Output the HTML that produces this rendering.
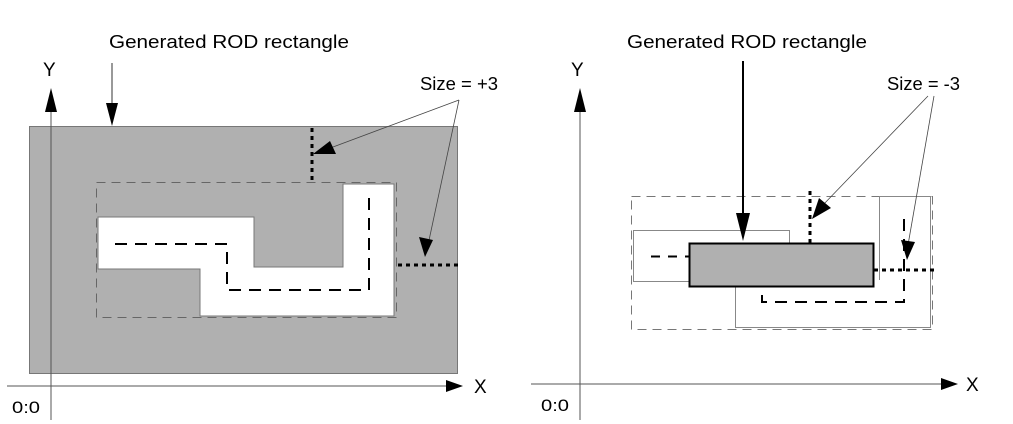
<!DOCTYPE html>
<html><head><meta charset="utf-8"><style>
html,body{margin:0;padding:0;background:#fff;}
svg{display:block;}
text{font-family:"Liberation Sans",sans-serif;fill:#000;}
</style></head><body>
<svg width="1013" height="424" viewBox="0 0 1013 424" xmlns="http://www.w3.org/2000/svg">
<!-- LEFT -->
<rect x="29.5" y="126.5" width="428" height="247" fill="#b0b0b0" stroke="#777" stroke-width="1"/>
<rect x="96.5" y="182.5" width="300" height="135" fill="none" stroke="#666" stroke-width="1" stroke-dasharray="9,6"/>
<polygon points="98,217 254,217 254,267 343,267 343,184 394,184 394,316 200,316 200,269 98,269" fill="#fff" stroke="#777" stroke-width="1"/>
<polyline points="115,244 227,244 227,290 369,290 369,198" fill="none" stroke="#000" stroke-width="2" stroke-dasharray="12,8"/>
<line x1="312" y1="128" x2="312" y2="182" stroke="#000" stroke-width="3" stroke-dasharray="4,4"/>
<line x1="398" y1="265" x2="458" y2="265" stroke="#000" stroke-width="3" stroke-dasharray="4,4"/>
<!-- axes -->
<line x1="51" y1="105" x2="51" y2="420" stroke="#555" stroke-width="1"/>
<polygon points="51,88 45,112 57,112" fill="#000"/>
<line x1="7" y1="386" x2="450" y2="386" stroke="#555" stroke-width="1"/>
<polygon points="463,386 446,380 446,392" fill="#000"/>
<text x="474" y="393" font-size="19">X</text>
<text x="43" y="76" font-size="19">Y</text>
<text x="12" y="413" font-size="17" textLength="28" lengthAdjust="spacingAndGlyphs">0:0</text>
<!-- title arrow -->
<text x="109" y="48" font-size="18.5" textLength="240" lengthAdjust="spacingAndGlyphs">Generated ROD rectangle</text>
<line x1="112" y1="63" x2="112" y2="110" stroke="#333" stroke-width="1"/>
<polygon points="112,126 106,103 118,103" fill="#000"/>
<text x="420" y="90" font-size="18.5" textLength="78" lengthAdjust="spacingAndGlyphs">Size = +3</text>
<line x1="459" y1="100" x2="325" y2="150" stroke="#444" stroke-width="0.8"/>
<polygon points="313,154 330,141 336,154" fill="#000"/>
<line x1="459" y1="100" x2="428" y2="245" stroke="#444" stroke-width="0.8"/>
<polygon points="425,257 419,237 433,240" fill="#000"/>

<!-- RIGHT -->
<rect x="631.5" y="196.5" width="301" height="133" fill="none" stroke="#777" stroke-width="1" stroke-dasharray="9,6"/>
<rect x="633.5" y="230.5" width="156" height="51" fill="none" stroke="#888" stroke-width="1"/>
<polyline points="735.5,286 735.5,327.5 930.5,327.5 930.5,196.5 879.5,196.5 879.5,280" fill="none" stroke="#888" stroke-width="1"/>
<line x1="651" y1="256.5" x2="689" y2="256.5" stroke="#000" stroke-width="2" stroke-dasharray="9,8"/>
<polyline points="762,295 762,302 904,302 904,212" fill="none" stroke="#000" stroke-width="2" stroke-dasharray="12,8"/>
<rect x="689.5" y="243.5" width="184" height="43" fill="#b0b0b0" stroke="#000" stroke-width="2"/>
<line x1="810" y1="191" x2="810" y2="243" stroke="#000" stroke-width="3" stroke-dasharray="4,4"/>
<line x1="874" y1="270" x2="934" y2="270" stroke="#000" stroke-width="3" stroke-dasharray="4,4"/>
<!-- axes -->
<line x1="580" y1="105" x2="580" y2="420" stroke="#555" stroke-width="1"/>
<polygon points="580,88 574,112 586,112" fill="#000"/>
<line x1="531" y1="384" x2="944" y2="384" stroke="#555" stroke-width="1"/>
<polygon points="958,384 941,378 941,390" fill="#000"/>
<text x="966" y="391" font-size="19">X</text>
<text x="571" y="76" font-size="19">Y</text>
<text x="541" y="411" font-size="17" textLength="28" lengthAdjust="spacingAndGlyphs">0:0</text>
<!-- title arrow -->
<text x="627" y="48" font-size="18.5" textLength="240" lengthAdjust="spacingAndGlyphs">Generated ROD rectangle</text>
<line x1="743" y1="61" x2="743" y2="218" stroke="#000" stroke-width="2"/>
<polygon points="743,241 736,213 750,213" fill="#000"/>
<text x="887" y="90" font-size="18.5" textLength="73" lengthAdjust="spacingAndGlyphs">Size = -3</text>
<line x1="928" y1="96" x2="822" y2="206" stroke="#444" stroke-width="0.8"/>
<polygon points="812,219 819,198 831,208" fill="#000"/>
<line x1="934" y1="96" x2="908" y2="245" stroke="#444" stroke-width="0.8"/>
<polygon points="907,260 901,240 915,242" fill="#000"/>
</svg>
</body></html>
